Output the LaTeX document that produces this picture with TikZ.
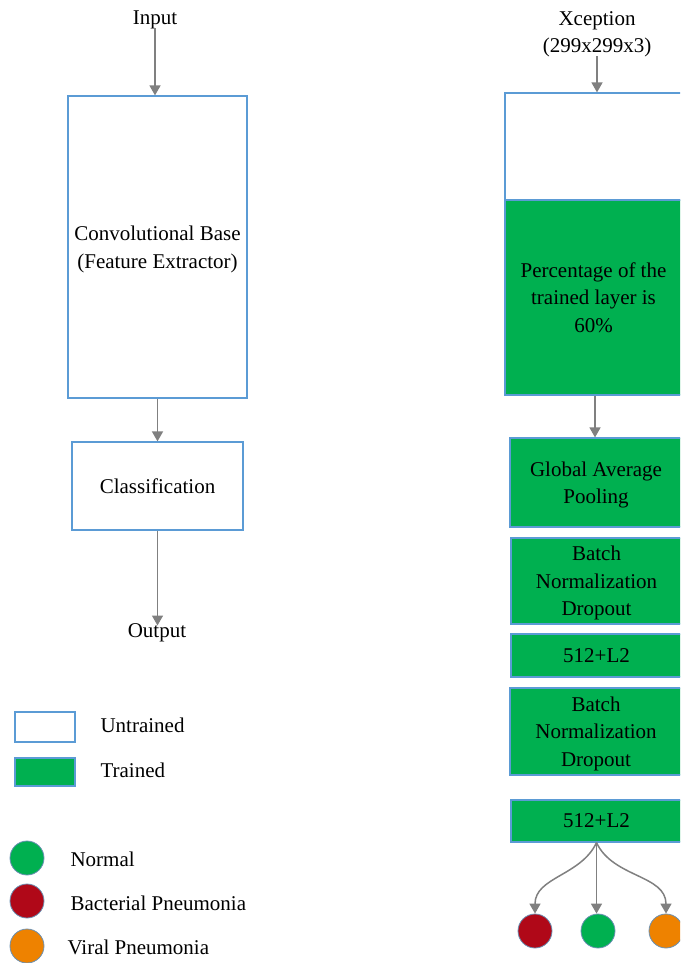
\documentclass[tikz,border=0pt]{standalone}
\usepackage{fontspec}
\setmainfont{Liberation Serif}
\usetikzlibrary{arrows.meta}

\definecolor{boxblue}{RGB}{91,155,213}
\definecolor{trainedgreen}{RGB}{0,176,80}
\definecolor{bacred}{RGB}{176,8,24}
\definecolor{viralorange}{RGB}{238,130,0}
\definecolor{arrowgray}{RGB}{128,128,128}

\begin{document}
\begin{tikzpicture}[x=1pt, y=-1pt, font=\fontsize{21}{27.5}\selectfont]
    \tikzset{
        every node/.style={text depth=0pt},
        untrained/.style={draw=boxblue, line width=1.2pt, fill=white, align=center, inner sep=0pt},
        trained/.style={untrained, fill=trainedgreen},
        class dot/.style={circle, draw=boxblue!60!gray, line width=0.8pt, minimum size=34pt, inner sep=0pt},
        flow/.style={draw=arrowgray, line width=1.5pt, -{Triangle[width=11pt, length=10pt]}},
    }
    \clip (0, 0) rectangle (680, 963);

    % generic transfer learning scheme
    \node (input) at (155, 18) {Input};
    \node[untrained, minimum width=179pt, minimum height=302pt] (convbase) at (157.5, 247)
        {Convolutional Base\\(Feature Extractor)};
    \node[untrained, minimum width=171pt, minimum height=88pt] (classif) at (157.5, 486) {Classification};
    \node (output) at (157, 631) {Output};
    \draw[flow] (input.south) -- (input.south |- convbase.north);
    \draw[flow] (convbase.south) -- (classif.north);
    \draw[flow] (classif.south) -- ([yshift=-5pt]classif.south |- output.north);

    % legend
    \node[untrained, minimum width=60pt, minimum height=30pt] (untrainedkey) at (45, 727) {};
    \node[anchor=west] (untrainedtext) at (97, 725) {Untrained};
    \node[trained, minimum width=60pt, minimum height=28pt] (trainedkey) at (45, 772) {};
    \node[anchor=west] (trainedtext) at (97, 770) {Trained};
    \node[class dot, fill=trainedgreen] (normalkey) at (27, 858) {};
    \node[anchor=west] (normaltext) at (67, 859) {Normal};
    \node[class dot, fill=bacred] (bacterialkey) at (27, 901) {};
    \node[anchor=west] (bacterialtext) at (67, 903) {Bacterial Pneumonia};
    \node[class dot, fill=viralorange] (viralkey) at (27, 946) {};
    \node[anchor=west] (viraltext) at (64, 947) {Viral Pneumonia};

    % Xception model, cut off at the right edge
    \node[align=center] (xception) at (597, 32) {Xception\\(299x299x3)};
    \node[untrained, minimum width=177pt, minimum height=107pt] (xbase) at (593.5, 146.5) {};
    \node[trained, minimum width=177pt, minimum height=195pt] (xtrained) at (593.5, 297.5)
        {Percentage of the\\trained layer is\\60\%};
    \node[trained, minimum width=172pt, minimum height=89pt] (gap) at (596, 482.5)
        {Global Average\\Pooling};
    \node[trained, minimum width=171pt, minimum height=86pt] (bnorma) at (596.5, 581)
        {Batch\\Normalization\\Dropout};
    \node[trained, minimum width=171pt, minimum height=43pt] (densea) at (596.5, 655.5) {512+L2};
    \node[trained, minimum width=172pt, minimum height=87pt] (bnormb) at (596, 731.5)
        {Batch\\Normalization\\Dropout};
    \node[trained, minimum width=171pt, minimum height=42pt] (denseb) at (596.5, 821) {512+L2};
    \node[class dot, fill=bacred] (bacterial) at (535, 931) {};
    \node[class dot, fill=trainedgreen] (normal) at (598, 931) {};
    \node[class dot, fill=viralorange] (viral) at (666, 931) {};

    \draw[flow] (xception.south -| xbase.north) ++(3.5, 0) coordinate (xin) -- (xin |- xbase.north);
    \draw[flow] ([xshift=1.5pt]xtrained.south) -- ([xshift=1.5pt]xtrained.south |- gap.north);
    \coordinate (split) at (denseb.south);
    \draw[flow] (split) to[out=-115, in=90] (bacterial.north);
    \draw[flow] (split) -- (split |- normal.north);
    \draw[flow] (split) to[out=-65, in=90] (viral.north);
\end{tikzpicture}
\end{document}
